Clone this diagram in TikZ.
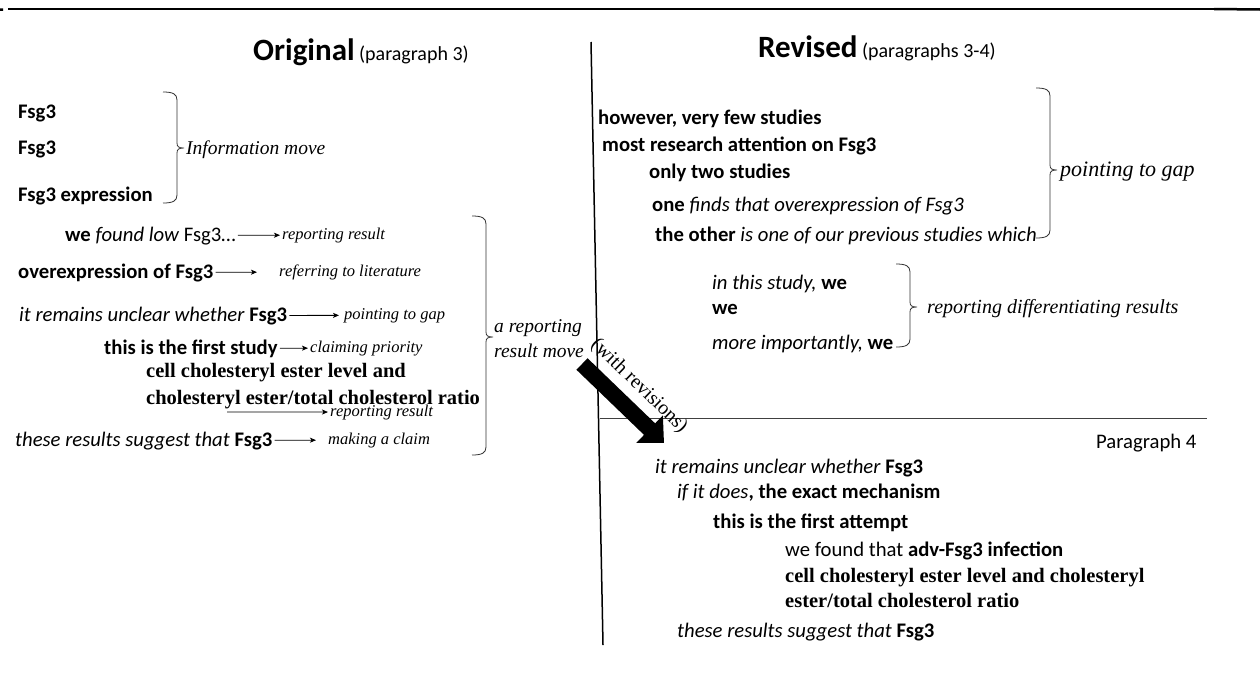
\documentclass[tikz,border=0pt]{standalone}
\usepackage{fontspec}
\setsansfont{Carlito}
\newfontfamily\tms{Liberation Serif}
\usetikzlibrary{positioning,arrows.meta}

\begin{document}
\begin{tikzpicture}[x=1pt,y=-1pt]
      \tikzset{
        every node/.style={inner sep=0pt,anchor=base west},
        txt/.style={font=\sffamily\fontsize{20.7}{24}\selectfont},
        tmsb/.style={font=\tms\bfseries\fontsize{20.5}{24}\selectfont},
        tag/.style={font=\tms\itshape\fontsize{16.5}{19}\selectfont},
        movelab/.style={font=\tms\itshape\fontsize{19.5}{23}\selectfont},
        biglab/.style={font=\tms\itshape\fontsize{22}{26}\selectfont},
        title/.style={font=\sffamily\fontsize{20}{24}\selectfont},
        tagarrow/.style={draw,-{Stealth[length=6pt,width=5pt,inset=1.5pt]},line width=0.8pt,shorten <=2pt,shorten >=2pt},
        bracket/.style={line width=0.8pt,black!80},
        rule/.style={line width=1.2pt},
        bigarrow/.style={line width=16pt,-{Triangle[length=20pt,width=37pt]}}
      }
      \useasboundingbox (0,0) rectangle (1260,675);

      \coordinate (ta) at (8,9);
      \coordinate (tb) at (1214,9);
      \coordinate (tc) at (1260,9.5);
      \coordinate (td) at (0,9.5);
      \coordinate (te) at (3,9.5);
      \draw[rule] (ta) -- (tb);
      \draw[line width=2.5pt] (tb) -- (tc) (td) -- (te);

      \coordinate (dtop) at (591,42);
      \coordinate (dbot) at (603,645);
      \draw[line width=1.5pt] (dtop) -- (dbot);
      \coordinate (pa) at (600,418);
      \coordinate (pb) at (1207,418);
      \draw[line width=1pt,black!75] (pa) -- (pb);

      \node[title] (orig) at (253,60) {{\fontsize{31}{36}\selectfont\bfseries Original} (paragraph 3)};
      \node[title] (revi) at (758,57) {{\fontsize{31}{36}\selectfont\bfseries Revised} (paragraphs 3-4)};

      \node[txt] (fsga) at (18,118) {\bfseries Fsg3};
      \node[txt] (fsgb) at (18,154) {\bfseries Fsg3};
      \node[txt] (fsgc) at (18,201) {\bfseries Fsg3 expression};
      \node[txt] (found) at (65,241) {{\bfseries we} \textit{found low} Fsg3\ldots};
      \node[txt] (overexp) at (18,278) {\bfseries overexpression of Fsg3};
      \node[txt] (unclear) at (19,321) {\textit{it remains unclear whether} \textbf{Fsg3}};
      \node[txt] (first) at (104,354) {\bfseries this is the first study};
      \node[tmsb] (chola) at (146,377) {cell cholesteryl ester level and};
      \node[tmsb] (cholb) at (146,404) {cholesteryl ester/total cholesterol ratio};
      \node[txt] (suggest) at (15,446) {\textit{these results suggest that} \textbf{Fsg3}};

      \node[tag] (trep) at (282,239) {reporting result};
      \node[tag] (tlit) at (279,276) {referring to literature};
      \node[tag] (tgap) at (344,319) {pointing to gap};
      \node[tag] (tprio) at (310,352) {claiming priority};
      \node[tag] (trepb) at (330,416) {reporting result};
      \node[tag] (tclaim) at (328,444) {making a claim};
      \coordinate (rr) at (227,412);

      \path (found) edge[tagarrow] (trep)
            (overexp) edge[tagarrow,shorten >=22pt] (tlit)
            (unclear) edge[tagarrow,shorten >=5pt] (tgap)
            (first) edge[tagarrow] (tprio)
            (rr) edge[tagarrow,shorten <=0pt] (trepb)
            (suggest) edge[tagarrow,shorten >=12pt] (tclaim);

      \node[txt] (however) at (598,124) {\bfseries however, very few studies};
      \node[txt] (most) at (602,151) {\bfseries most research attention on Fsg3};
      \node[txt] (onlytwo) at (649,178) {\bfseries only two studies};
      \node[txt] (one) at (652,211) {\textbf{one} \textit{finds that overexpression of Fsg3}};
      \node[txt] (other) at (655,241) {\textbf{the other} \textit{is one of our previous studies which}};
      \node[txt] (instudy) at (712,289) {\textit{in this study,} \textbf{we}};
      \node[txt] (we) at (712,314) {\bfseries we};
      \node[txt] (moreimp) at (712,349) {\textit{more importantly,} \textbf{we}};

      \node[txt] (para) at (1096,448) {Paragraph 4};
      \node[txt] (unclearb) at (655,473) {\textit{it remains unclear whether} \textbf{Fsg3}};
      \node[txt] (ifdoes) at (677,498) {\textit{if it does}\textbf{, the exact mechanism}};
      \node[txt] (attempt) at (713,528) {\bfseries this is the first attempt};
      \node[txt] (advfsg) at (785,556) {we found that \textbf{adv-Fsg3 infection}};
      \node[tmsb] (cholc) at (785,582) {cell cholesteryl ester level and cholesteryl};
      \node[tmsb] (chold) at (785,607) {ester/total cholesterol ratio};
      \node[txt] (suggestb) at (677,637) {\textit{these results suggest that} \textbf{Fsg3}};

      \foreach \bx/\bt/\bm/\bb in {177/92/148/203, 486/216/337/455, 1050/88/170/238, 910/264/307/347}
        \draw[bracket] (\bx-14,\bt) .. controls (\bx-4,\bt) and (\bx,\bt+2) .. (\bx,\bt+8)
          -- (\bx,\bm-5) .. controls (\bx,\bm-1) and (\bx+2,\bm) .. (\bx+7,\bm)
          .. controls (\bx+2,\bm) and (\bx,\bm+1) .. (\bx,\bm+5)
          -- (\bx,\bb-8) .. controls (\bx,\bb-2) and (\bx-4,\bb) .. (\bx-14,\bb);

      \node[movelab] (infomove) at (186,154) {Information move};
      \node[movelab] (repmovea) at (494,332) {a reporting};
      \node[movelab] (repmoveb) at (494,357) {result move};
      \node[biglab] (gaplab) at (1060,176) {pointing to gap};
      \node[movelab,font=\tms\itshape\fontsize{20}{24}\selectfont] (difflab) at (927,313) {reporting differentiating results};

      \coordinate (btail) at (582,364);
      \coordinate (bhead) at (664,443);
      \draw[bigarrow] (btail) -- (bhead);
      \node[font=\tms\fontsize{20}{24}\selectfont,anchor=center,rotate=-44] (withrev) at (639,386) {(with revisions)};
    \end{tikzpicture}
\end{document}
